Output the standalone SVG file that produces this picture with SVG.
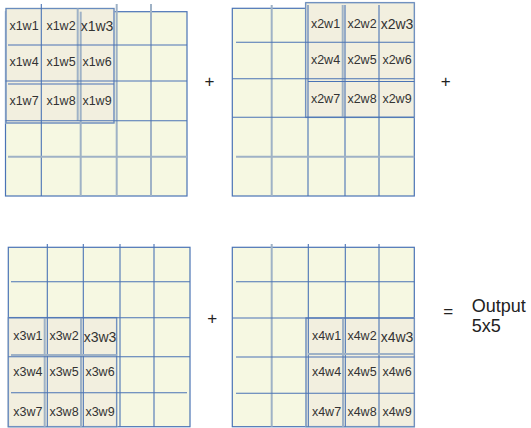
<svg xmlns="http://www.w3.org/2000/svg" width="531" height="428" viewBox="0 0 531 428">
<style>
.bg{fill:#f6f8e2;stroke:#4a73b5;stroke-width:1.2}
.patch{fill:#f2efdf;stroke:#a9bacb;stroke-width:1.6}
.pe{fill:none;stroke:#5a80bb;stroke-width:0.8}
.b{stroke:#4a73b5;stroke-width:1.1;fill:none}
.g{stroke:#9fb2c6;stroke-width:2;fill:none}
.lbl{font-family:"Liberation Sans",Arial,sans-serif;font-size:12.5px;fill:#333;text-anchor:middle}
.big{font-size:14px}
.op{font-family:"Liberation Sans",Arial,sans-serif;font-size:17px;fill:#222;text-anchor:middle}
.out{font-family:"Liberation Sans",Arial,sans-serif;font-size:18px;fill:#222}
</style>
<g id="grid1">
<rect class="bg" x="5.5" y="11.7" width="181.5" height="184.3"/>
<rect class="patch" x="6" y="8.5" width="108" height="114.5"/>
<rect class="pe" x="6" y="8.5" width="108" height="114.5"/>
<line class="b" x1="41.3" y1="4" x2="41.3" y2="196"/>
<line class="g" x1="80.7" y1="11.7" x2="80.7" y2="196"/>
<line class="g" x1="77.7" y1="8.5" x2="77.7" y2="120.7"/>
<line class="g" x1="116.7" y1="4" x2="116.7" y2="196"/>
<line class="g" x1="151" y1="4" x2="151" y2="196"/>
<line class="b" x1="8" y1="45" x2="187" y2="45"/>
<line class="b" x1="5.5" y1="81" x2="187" y2="81"/>
<line class="b" x1="8" y1="84" x2="114" y2="84"/>
<line class="b" x1="5.5" y1="120.7" x2="187" y2="120.7"/>
<line class="g" x1="8" y1="156.7" x2="187" y2="156.7"/>
<text class="lbl" x="24" y="29.5">x1w1</text>
<text class="lbl" x="61" y="29.5">x1w2</text>
<text class="lbl big" x="97" y="31">x1w3</text>
<text class="lbl" x="24" y="66">x1w4</text>
<text class="lbl" x="61" y="66">x1w5</text>
<text class="lbl" x="97" y="66">x1w6</text>
<text class="lbl" x="24" y="104.5">x1w7</text>
<text class="lbl" x="61" y="104.5">x1w8</text>
<text class="lbl" x="97" y="104.5">x1w9</text>
</g>
<g id="grid2">
<rect class="bg" x="232.3" y="8.3" width="182" height="187.7"/>
<rect class="patch" x="305.7" y="2.7" width="108.6" height="114.6"/>
<rect class="pe" x="305.7" y="2.7" width="108.6" height="114.6"/>
<line class="g" x1="271.7" y1="5" x2="271.7" y2="196"/>
<line class="b" x1="308" y1="5" x2="308" y2="196"/>
<line class="g" x1="342.7" y1="5" x2="342.7" y2="117.3"/>
<line class="b" x1="345" y1="5" x2="345" y2="196"/>
<line class="b" x1="379" y1="5" x2="379" y2="196"/>
<line class="b" x1="236" y1="42.3" x2="414.3" y2="42.3"/>
<line class="b" x1="232.3" y1="78.7" x2="414.3" y2="78.7"/>
<line class="b" x1="308" y1="81.5" x2="414.3" y2="81.5"/>
<line class="b" x1="232.3" y1="117.3" x2="414.3" y2="117.3"/>
<line class="g" x1="236" y1="156.7" x2="414.3" y2="156.7"/>
<text class="lbl" x="325.5" y="27.5">x2w1</text>
<text class="lbl" x="362" y="27.5">x2w2</text>
<text class="lbl big" x="397" y="29">x2w3</text>
<text class="lbl" x="325.5" y="63.5">x2w4</text>
<text class="lbl" x="362" y="63.5">x2w5</text>
<text class="lbl" x="397" y="63.5">x2w6</text>
<text class="lbl" x="325.5" y="103">x2w7</text>
<text class="lbl" x="362" y="103">x2w8</text>
<text class="lbl" x="397" y="103">x2w9</text>
</g>
<g id="grid3">
<rect class="bg" x="8.3" y="247.3" width="181.7" height="179.4"/>
<rect class="patch" x="8.3" y="317.7" width="108.4" height="109"/>
<rect class="pe" x="8.3" y="317.7" width="108.4" height="109"/>
<line class="b" x1="47.3" y1="244" x2="47.3" y2="426.7"/>
<line class="g" x1="44.7" y1="317.7" x2="44.7" y2="426.7"/>
<line class="b" x1="83.3" y1="244" x2="83.3" y2="426.7"/>
<line class="g" x1="81" y1="317.7" x2="81" y2="426.7"/>
<line class="b" x1="120" y1="244" x2="120" y2="426.7"/>
<line class="b" x1="154" y1="244" x2="154" y2="426.7"/>
<line class="b" x1="11" y1="281.7" x2="190" y2="281.7"/>
<line class="b" x1="8.3" y1="317.7" x2="190" y2="317.7"/>
<line class="g" x1="11" y1="355" x2="116.7" y2="355"/>
<line class="b" x1="8.3" y1="356.7" x2="190" y2="356.7"/>
<line class="b" x1="11" y1="392.7" x2="187" y2="392.7"/>
<text class="lbl" x="27.8" y="340">x3w1</text>
<text class="lbl" x="64" y="340">x3w2</text>
<text class="lbl big" x="100" y="342">x3w3</text>
<text class="lbl" x="27.8" y="376">x3w4</text>
<text class="lbl" x="64" y="376">x3w5</text>
<text class="lbl" x="100" y="376">x3w6</text>
<text class="lbl" x="27.8" y="415.5">x3w7</text>
<text class="lbl" x="64" y="415.5">x3w8</text>
<text class="lbl" x="100" y="415.5">x3w9</text>
</g>
<g id="grid4">
<rect class="bg" x="232.3" y="247.3" width="182" height="179.4"/>
<rect class="patch" x="306" y="318" width="108.3" height="108.7"/>
<rect class="pe" x="306" y="318" width="108.3" height="108.7"/>
<line class="g" x1="271.7" y1="244" x2="271.7" y2="426.7"/>
<line class="b" x1="308.3" y1="244" x2="308.3" y2="426.7"/>
<line class="g" x1="343" y1="318" x2="343" y2="426.7"/>
<line class="b" x1="345.3" y1="244" x2="345.3" y2="426.7"/>
<line class="b" x1="379" y1="244" x2="379" y2="426.7"/>
<line class="b" x1="236" y1="281.7" x2="414.3" y2="281.7"/>
<line class="b" x1="232.3" y1="318" x2="414.3" y2="318"/>
<line class="g" x1="308" y1="354" x2="414.3" y2="354"/>
<line class="b" x1="236" y1="357" x2="414.3" y2="357"/>
<line class="b" x1="236" y1="393.3" x2="414.3" y2="393.3"/>
<text class="lbl" x="326.5" y="340">x4w1</text>
<text class="lbl" x="362" y="340">x4w2</text>
<text class="lbl big" x="397" y="342">x4w3</text>
<text class="lbl" x="326.5" y="376">x4w4</text>
<text class="lbl" x="362" y="376">x4w5</text>
<text class="lbl" x="397" y="376">x4w6</text>
<text class="lbl" x="326.5" y="415.5">x4w7</text>
<text class="lbl" x="362" y="415.5">x4w8</text>
<text class="lbl" x="397" y="415.5">x4w9</text>
</g>
<g id="ops">
<text class="op" x="209.5" y="86.5">+</text>
<text class="op" x="445.7" y="86.5">+</text>
<text class="op" x="212.3" y="323.5">+</text>
<text class="op" x="448.3" y="317">=</text>
<text class="out" x="471.7" y="311.5">Output</text>
<text class="out" x="471.7" y="331.5">5x5</text>
</g>
</svg>
